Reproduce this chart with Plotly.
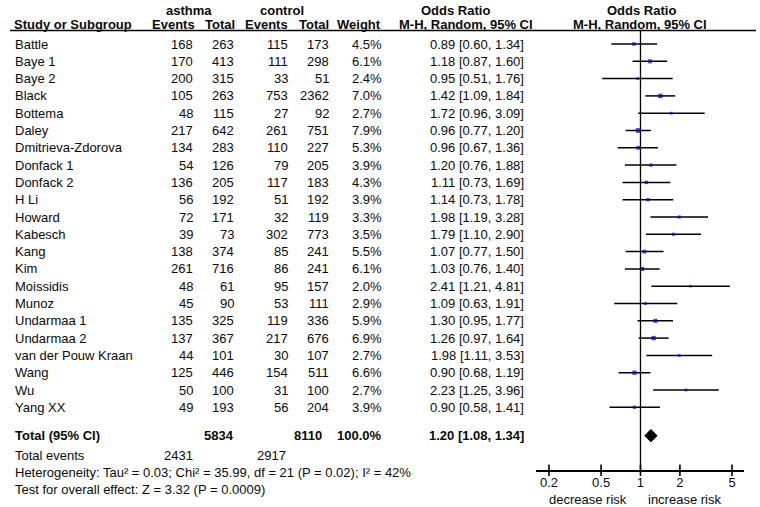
import plotly.graph_objects as go

# ---------------- data ----------------
studies = ["Battle", "Baye 1", "Baye 2", "Black", "Bottema", "Daley", "Dmitrieva-Zdorova",
           "Donfack 1", "Donfack 2", "H Li", "Howard", "Kabesch", "Kang", "Kim", "Moissidis",
           "Munoz", "Undarmaa 1", "Undarmaa 2", "van der Pouw Kraan", "Wang", "Wu", "Yang XX"]
asthma_events = [168, 170, 200, 105, 48, 217, 134, 54, 136, 56, 72, 39, 138, 261, 48, 45, 135, 137, 44, 125, 50, 49]
asthma_total = [263, 413, 315, 263, 115, 642, 283, 126, 205, 192, 171, 73, 374, 716, 61, 90, 325, 367, 101, 446, 100, 193]
control_events = [115, 111, 33, 753, 27, 261, 110, 79, 117, 51, 32, 302, 85, 86, 95, 53, 119, 217, 30, 154, 31, 56]
control_total = [173, 298, 51, 2362, 92, 751, 227, 205, 183, 192, 119, 773, 241, 241, 157, 111, 336, 676, 107, 511, 100, 204]
weights = [4.5, 6.1, 2.4, 7.0, 2.7, 7.9, 5.3, 3.9, 4.3, 3.9, 3.3, 3.5, 5.5, 6.1, 2.0, 2.9, 5.9, 6.9, 2.7, 6.6, 2.7, 3.9]
or_vals = [0.89, 1.18, 0.95, 1.42, 1.72, 0.96, 0.96, 1.20, 1.11, 1.14, 1.98, 1.79, 1.07, 1.03, 2.41, 1.09, 1.30, 1.26, 1.98, 0.90, 2.23, 0.90]
ci_low = [0.60, 0.87, 0.51, 1.09, 0.96, 0.77, 0.67, 0.76, 0.73, 0.73, 1.19, 1.10, 0.77, 0.76, 1.21, 0.63, 0.95, 0.97, 1.11, 0.68, 1.25, 0.58]
ci_high = [1.34, 1.60, 1.76, 1.84, 3.09, 1.20, 1.36, 1.88, 1.69, 1.78, 3.28, 2.90, 1.50, 1.40, 4.81, 1.91, 1.77, 1.64, 3.53, 1.19, 3.96, 1.41]

total_asthma_n = 5834
total_control_n = 8110
total_weight = "100.0%"
total_or = 1.20
total_lo = 1.08
total_hi = 1.34
total_asthma_events = 2431
total_control_events = 2917
heterogeneity = "Heterogeneity: Tau² = 0.03; Chi² = 35.99, df = 21 (P = 0.02); I² = 42%"
overall = "Test for overall effect: Z = 3.32 (P = 0.0009)"
tick_vals = [0.2, 0.5, 1, 2, 5]
tick_text = ["0.2", "0.5", "1", "2", "5"]

# ---------------- layout helpers ----------------
W, H = 760, 507
ROW0, ROWH = 44.0, 17.3


def row_of(px):
    return (px - ROW0) / ROWH


def px_x(px):
    return px / W


FONT = "Liberation Sans, Arial, sans-serif"
TXT = "#0a0a0a"
FS = 13

n = len(studies)
rows = list(range(n))
row_total = row_of(435.7)
row_tev = row_of(455.5)
row_het = row_of(472.5)
row_test = row_of(489.5)

fig = go.Figure()

# CI lines
xs, ys = [], []
for i in range(n):
    xs += [ci_low[i], ci_high[i], None]
    ys += [rows[i], rows[i], None]
fig.add_trace(go.Scatter(x=xs, y=ys, mode="lines", line=dict(color="#000000", width=1.5),
                         hoverinfo="skip", showlegend=False, cliponaxis=False))
# squares
fig.add_trace(go.Scatter(x=or_vals, y=rows, mode="markers",
                         marker=dict(symbol="square", color="#0000c8",
                                     size=[1.8 + w * 0.38 for w in weights], line=dict(width=0)),
                         showlegend=False, cliponaxis=False))
# diamond
dh = 0.36
fig.add_trace(go.Scatter(x=[total_lo, total_or, total_hi, total_or, total_lo],
                         y=[row_total, row_total - dh, row_total, row_total + dh, row_total],
                         mode="lines", fill="toself", fillcolor="#000000",
                         line=dict(color="#000000", width=1), showlegend=False, cliponaxis=False))

ann = []


def add_text(x_px, y, text, anchor="left", bold=False, size=FS):
    ann.append(dict(x=px_x(x_px), xref="paper", y=y, yref="y", text=("<b>%s</b>" % text) if bold else text,
                    showarrow=False, xanchor=anchor, yanchor="middle",
                    font=dict(family=FONT, size=size, color=TXT), borderpad=0))


# headers
hdr_top = row_of(10)
hdr_bot = row_of(24)
add_text(189, hdr_top, "asthma", "center", True)
add_text(282, hdr_top, "control", "center", True)
add_text(455, hdr_top, "Odds Ratio", "center", True)
add_text(641, hdr_top, "Odds Ratio", "center", True)
add_text(13, hdr_bot, "Study or Subgroup", "left", True)
add_text(196, hdr_bot, "Events", "right", True)
add_text(236, hdr_bot, "Total", "right", True)
add_text(289, hdr_bot, "Events", "right", True)
add_text(330, hdr_bot, "Total", "right", True)
add_text(382, hdr_bot, "Weight", "right", True)
add_text(466, hdr_bot, "M-H, Random, 95% CI", "center", True)
add_text(640, hdr_bot, "M-H, Random, 95% CI", "center", True)

for i in range(n):
    r = rows[i]
    add_text(14, r, studies[i])
    add_text(194, r, str(asthma_events[i]), "right")
    add_text(235, r, str(asthma_total[i]), "right")
    add_text(289, r, str(control_events[i]), "right")
    add_text(330, r, str(control_total[i]), "right")
    add_text(383, r, "%.1f%%" % weights[i], "right")
    add_text(525, r, "%.2f [%.2f, %.2f]" % (or_vals[i], ci_low[i], ci_high[i]), "right")

add_text(14, row_total, "Total (95% CI)", "left", True)
add_text(235, row_total, str(total_asthma_n), "right", True)
add_text(323, row_total, str(total_control_n), "right", True)
add_text(383, row_total, total_weight, "right", True)
add_text(525, row_total, "%.2f [%.2f, %.2f]" % (total_or, total_lo, total_hi), "right", True)
add_text(14, row_tev, "Total events")
add_text(194, row_tev, str(total_asthma_events), "right")
add_text(287, row_tev, str(total_control_events), "right")
add_text(14, row_het, heterogeneity)
add_text(14, row_test, overall)

axis_y_px = 470.0
axis_pos = (H - axis_y_px) / H
add_text(628, row_of(499), "decrease risk", "right")
add_text(647, row_of(499), "increase risk", "left")

shapes = []
# header underline
shapes.append(dict(type="line", xref="paper", yref="paper", x0=px_x(10), x1=px_x(756),
                   y0=(H - 30.5) / H, y1=(H - 30.5) / H, line=dict(color="#000000", width=1.5)))
# vertical line at OR = 1
shapes.append(dict(type="line", xref="x", yref="paper", x0=1, x1=1,
                   y0=(H - 30.5) / H, y1=axis_pos, line=dict(color="#000000", width=1.3)))
# tick marks crossing the axis line
for tv in tick_vals:
    shapes.append(dict(type="line", xref="x", yref="paper", x0=tv, x1=tv,
                       y0=axis_pos - 6 / H, y1=axis_pos + 5.5 / H, line=dict(color="#000000", width=1.6)))

fig.update_layout(
    width=W, height=H, margin=dict(l=0, r=0, t=0, b=0),
    paper_bgcolor="white", plot_bgcolor="white",
    showlegend=False, annotations=ann, shapes=shapes,
    xaxis=dict(type="log", domain=[536 / W, 744 / W], range=[-0.798, 0.7906],
               anchor="free", position=axis_pos, showgrid=False, zeroline=False,
               showline=True, linecolor="#000000", linewidth=1.5,
               ticks="", tickvals=tick_vals, ticktext=tick_text,
               tickfont=dict(family=FONT, size=FS, color=TXT)),
    yaxis=dict(domain=[0, 1], range=[row_of(H), row_of(0)], visible=False,
               showgrid=False, zeroline=False),
)

fig.write_html("out.html", config={"displayModeBar": False, "staticPlot": True},
               post_script="document.body.style.margin='0px';document.body.style.overflow='hidden';")
